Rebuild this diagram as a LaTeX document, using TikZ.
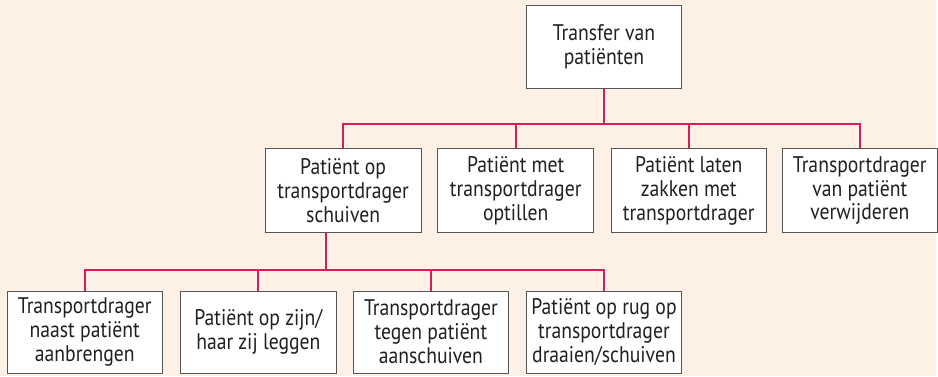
\documentclass[tikz,border=0pt]{standalone}
\usepackage{fontspec}
\setmainfont{PT Sans}[FakeStretch=0.87]
\definecolor{peach}{HTML}{FDF0E4}
\definecolor{linkred}{HTML}{D81B5A}
\definecolor{boxgray}{HTML}{555555}
\definecolor{inkgray}{HTML}{231F20}
\begin{document}
\begin{tikzpicture}[x=0.75pt,y=-0.75pt,
  taak/.style={draw=boxgray,line width=0.6pt,fill=white,text=inkgray,
    minimum width=117pt,minimum height=63pt,align=center,
    inner sep=0pt,font=\fontsize{17}{18}\selectfont},
  link/.style={draw=linkred,line width=1.4pt}]
\fill[peach] (0,0) rectangle (938,377);

\node[taak] (top) at (605.5,47) {Transfer van\\patiënten};

\node[taak] (m1) at (344,191) {Patiënt op\\transportdrager\\schuiven};
\node[taak] (m2) at (517,191) {Patiënt met\\transportdrager\\optillen};
\node[taak] (m3) at (690.5,191) {Patiënt laten\\zakken met\\transportdrager};
\node[taak] (m4) at (862,191) {Transportdrager\\van patiënt\\verwijderen};

\node[taak,minimum height=61.5pt] (b1) at (85,333) {Transportdrager\\naast patiënt\\aanbrengen};
\node[taak,minimum height=61.5pt] (b2) at (259,333) {Patiënt op zijn/\\haar zij leggen};
\node[taak,minimum height=61.5pt] (b3) at (432,333) {Transportdrager\\tegen patiënt\\aanschuiven};
\node[taak,minimum height=61.5pt] (b4) at (605.5,333) {Patiënt op rug op\\transportdrager\\draaien/schuiven};

\draw[link] (top.south) -- ++(0,36);
\draw[link] (m1.north) -- ++(0,-24) -| (m4.north);
\draw[link] (m2.north) -- ++(0,-24);
\draw[link] (m3.north) -- ++(0,-24);

\draw[link] (m1.south) ++(-17,0) -- ++(0,38);
\draw[link] (b1.north) -- ++(0,-21) -| (b4.north);
\draw[link] (b2.north) -- ++(0,-21);
\draw[link] (b3.north) -- ++(0,-21);
\end{tikzpicture}
\end{document}
